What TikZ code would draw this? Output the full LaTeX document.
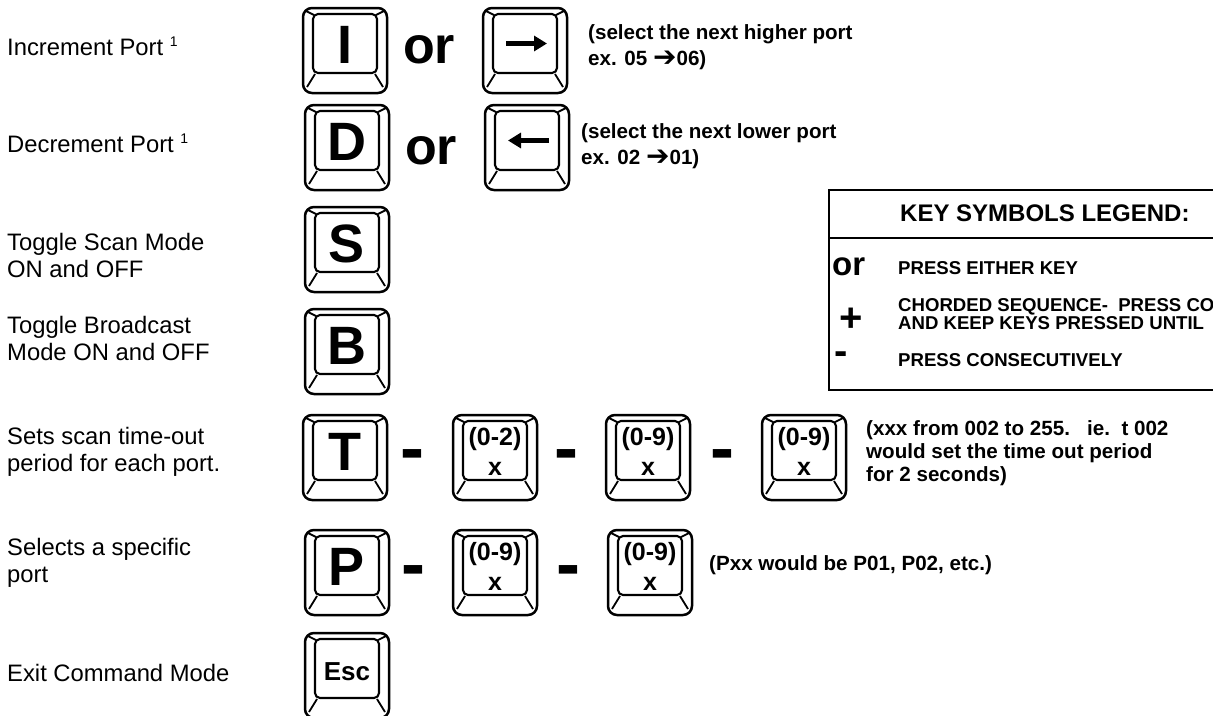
\documentclass[tikz,border=0pt]{standalone}
\usepackage{fontspec}
\setmainfont{Liberation Sans}
\newfontfamily\dejavu{DejaVu Sans}
\usetikzlibrary{arrows.meta,calc}
\newcommand\fs[1]{\fontsize{#1}{#1}\selectfont}
\begin{document}
\begin{tikzpicture}[x=1pt,y=-1pt,
  keyout/.style={line width=2.5pt, rounded corners=9pt},
  keyin/.style={line width=2.1pt, rounded corners=5pt},
  keybev/.style={line width=1.8pt},
  keyarrow/.style={line width=4.5pt, -{Triangle[length=13pt,width=15pt]}},
  lbl/.style={anchor=base west, inner sep=0pt, font=\fs{23.8}},
  note/.style={anchor=base west, inner sep=0pt, font=\bfseries\fs{20.6}},
  keylet/.style={inner sep=0pt, font=\bfseries\fs{54}},
  keyesc/.style={inner sep=0pt, font=\bfseries\fs{26}},
  keysm/.style={inner sep=0pt, font=\bfseries\fs{25}},
  ortxt/.style={anchor=base west, inner sep=0pt, font=\bfseries\fs{52}},
  sepdash/.style={anchor=base, inner sep=0pt, font=\bfseries\fs{72}},
  legbox/.style={line width=2pt},
  legh/.style={anchor=base west, inner sep=0pt, font=\bfseries\fs{24}},
  legt/.style={anchor=base west, inner sep=0pt, font=\bfseries\fs{18.6}},
  legor/.style={anchor=base west, inner sep=0pt, font=\bfseries\fs{33}},
  legsym/.style={anchor=base, inner sep=0pt, font=\bfseries\fs{40}},
  txtarrow/.style={font=\dejavu\fs{30}},
  pics/keycap/.style={code={
    \draw[keyout] (0,0) rectangle (84,85);
    \draw[keyin] (10,6) rectangle (74,65);
    \draw[keybev] (3,3) -- (11,7);
    \draw[keybev] (81,3) -- (73,7);
    \draw[keybev] (4,79) -- (12,66);
    \draw[keybev] (80,79) -- (72,66);
    \coordinate (-c) at (42,36.5);
    \coordinate (-e) at (42,38.5);
    \coordinate (-u) at (42,24.5);
    \coordinate (-d) at (42,53.5);
    \coordinate (-l) at (23,35.5);
    \coordinate (-r) at (64,35.5);
  }}
]
\useasboundingbox (0,0) rectangle (1213,715);
\clip (0,0) rectangle (1213,715);

% left labels
\node[lbl] (l1) at (7,55.5) {Increment Port \raisebox{9pt}{\fs{14}1}};
\node[lbl] (l2) at (7,152.5) {Decrement Port \raisebox{9pt}{\fs{14}1}};
\node[lbl] (l3a) at (7,250.5) {Toggle Scan Mode};
\node[lbl] (l3b) at (7,277.5) {ON and OFF};
\node[lbl] (l4a) at (7,333.5) {Toggle Broadcast};
\node[lbl] (l4b) at (7,360.5) {Mode ON and OFF};
\node[lbl] (l5a) at (7,444.5) {Sets scan time-out};
\node[lbl] (l5b) at (7,471.5) {period for each port.};
\node[lbl] (l6a) at (7,555.5) {Selects a specific};
\node[lbl] (l6b) at (7,582.5) {port};
\node[lbl] (l7) at (7,681.5) {Exit Command Mode};

% row 1
\pic (kI) at (303,8) {keycap};
\node[keylet] (tI) at (kI-c) {I};
\node[ortxt] (or1) at (403,63) {or};
\pic (kR) at (483,8) {keycap};
\draw[keyarrow] (kR-l) -- (kR-r);
\node[note] (n1a) at (588,39) {(select the next higher port};
\node[note] (n1b) at (588,65) {ex. 05 {\dejavu\fs{28}\raisebox{-1pt}{➔}}06)};

% row 2
\pic (kD) at (305,105) {keycap};
\node[keylet] (tD) at (kD-c) {D};
\node[ortxt] (or2) at (405,164) {or};
\pic (kL) at (485,105) {keycap};
\draw[keyarrow] (kL-r) -- (kL-l);
\node[note] (n2a) at (581,138) {(select the next lower port};
\node[note] (n2b) at (581,164) {ex. 02 {\dejavu\fs{28}\raisebox{-1pt}{➔}}01)};

% rows 3, 4
\pic (kS) at (305,207) {keycap};
\node[keylet] (tS) at (kS-c) {S};
\pic (kB) at (305,309) {keycap};
\node[keylet] (tB) at (kB-c) {B};

% row 5
\pic (kT) at (303,415) {keycap};
\node[keylet] (tT) at (kT-c) {T};
\node[sepdash] (dT1) at (412,472) {-};
\pic (kT2) at (453,415) {keycap};
\node[keysm] (tT2u) at (kT2-u) {(0-2)};
\node[keysm] (tT2d) at (kT2-d) {x};
\node[sepdash] (dT2) at (566,472) {-};
\pic (kT3) at (606,415) {keycap};
\node[keysm] (tT3u) at (kT3-u) {(0-9)};
\node[keysm] (tT3d) at (kT3-d) {x};
\node[sepdash] (dT3) at (722,472) {-};
\pic (kT4) at (762,415) {keycap};
\node[keysm] (tT4u) at (kT4-u) {(0-9)};
\node[keysm] (tT4d) at (kT4-d) {x};
\node[note] (n5a) at (866,435) {(xxx from 002 to 255.\ \ \ ie.\ \ t 002};
\node[note] (n5b) at (866,458) {would set the time out period};
\node[note] (n5c) at (866,481) {for 2 seconds)};

% row 6
\pic (kP) at (305,530) {keycap};
\node[keylet] (tP) at (kP-c) {P};
\node[sepdash] (dP1) at (413,588) {-};
\pic (kP2) at (453,530) {keycap};
\node[keysm] (tP2u) at (kP2-u) {(0-9)};
\node[keysm] (tP2d) at (kP2-d) {x};
\node[sepdash] (dP2) at (568,588) {-};
\pic (kP3) at (608,530) {keycap};
\node[keysm] (tP3u) at (kP3-u) {(0-9)};
\node[keysm] (tP3d) at (kP3-d) {x};
\node[note] (n6) at (709,570) {(Pxx would be P01, P02, etc.)};

% row 7
\pic (kE) at (305,633) {keycap};
\node[keyesc] (tE) at (kE-e) {Esc};

% legend
\draw[legbox] (829,190) rectangle (1240,390);
\draw[legbox] (829,238) -- (1240,238);
\node[legh] (lh) at (900,221.6) {KEY SYMBOLS LEGEND:};
\node[legor] (lor) at (832,275) {or};
\node[legt] (lt1) at (898,274) {PRESS EITHER KEY};
\node[legsym] (lplus) at (851,331) {+};
\node[legt] (lt2a) at (898,311.5) {CHORDED SEQUENCE-\ \ PRESS CO};
\node[legt] (lt2b) at (898,329.5) {AND KEEP KEYS PRESSED UNTIL};
\node[legsym] (lminus) at (841,364) {-};
\node[legt] (lt3) at (898,366) {PRESS CONSECUTIVELY};
\end{tikzpicture}
\end{document}
